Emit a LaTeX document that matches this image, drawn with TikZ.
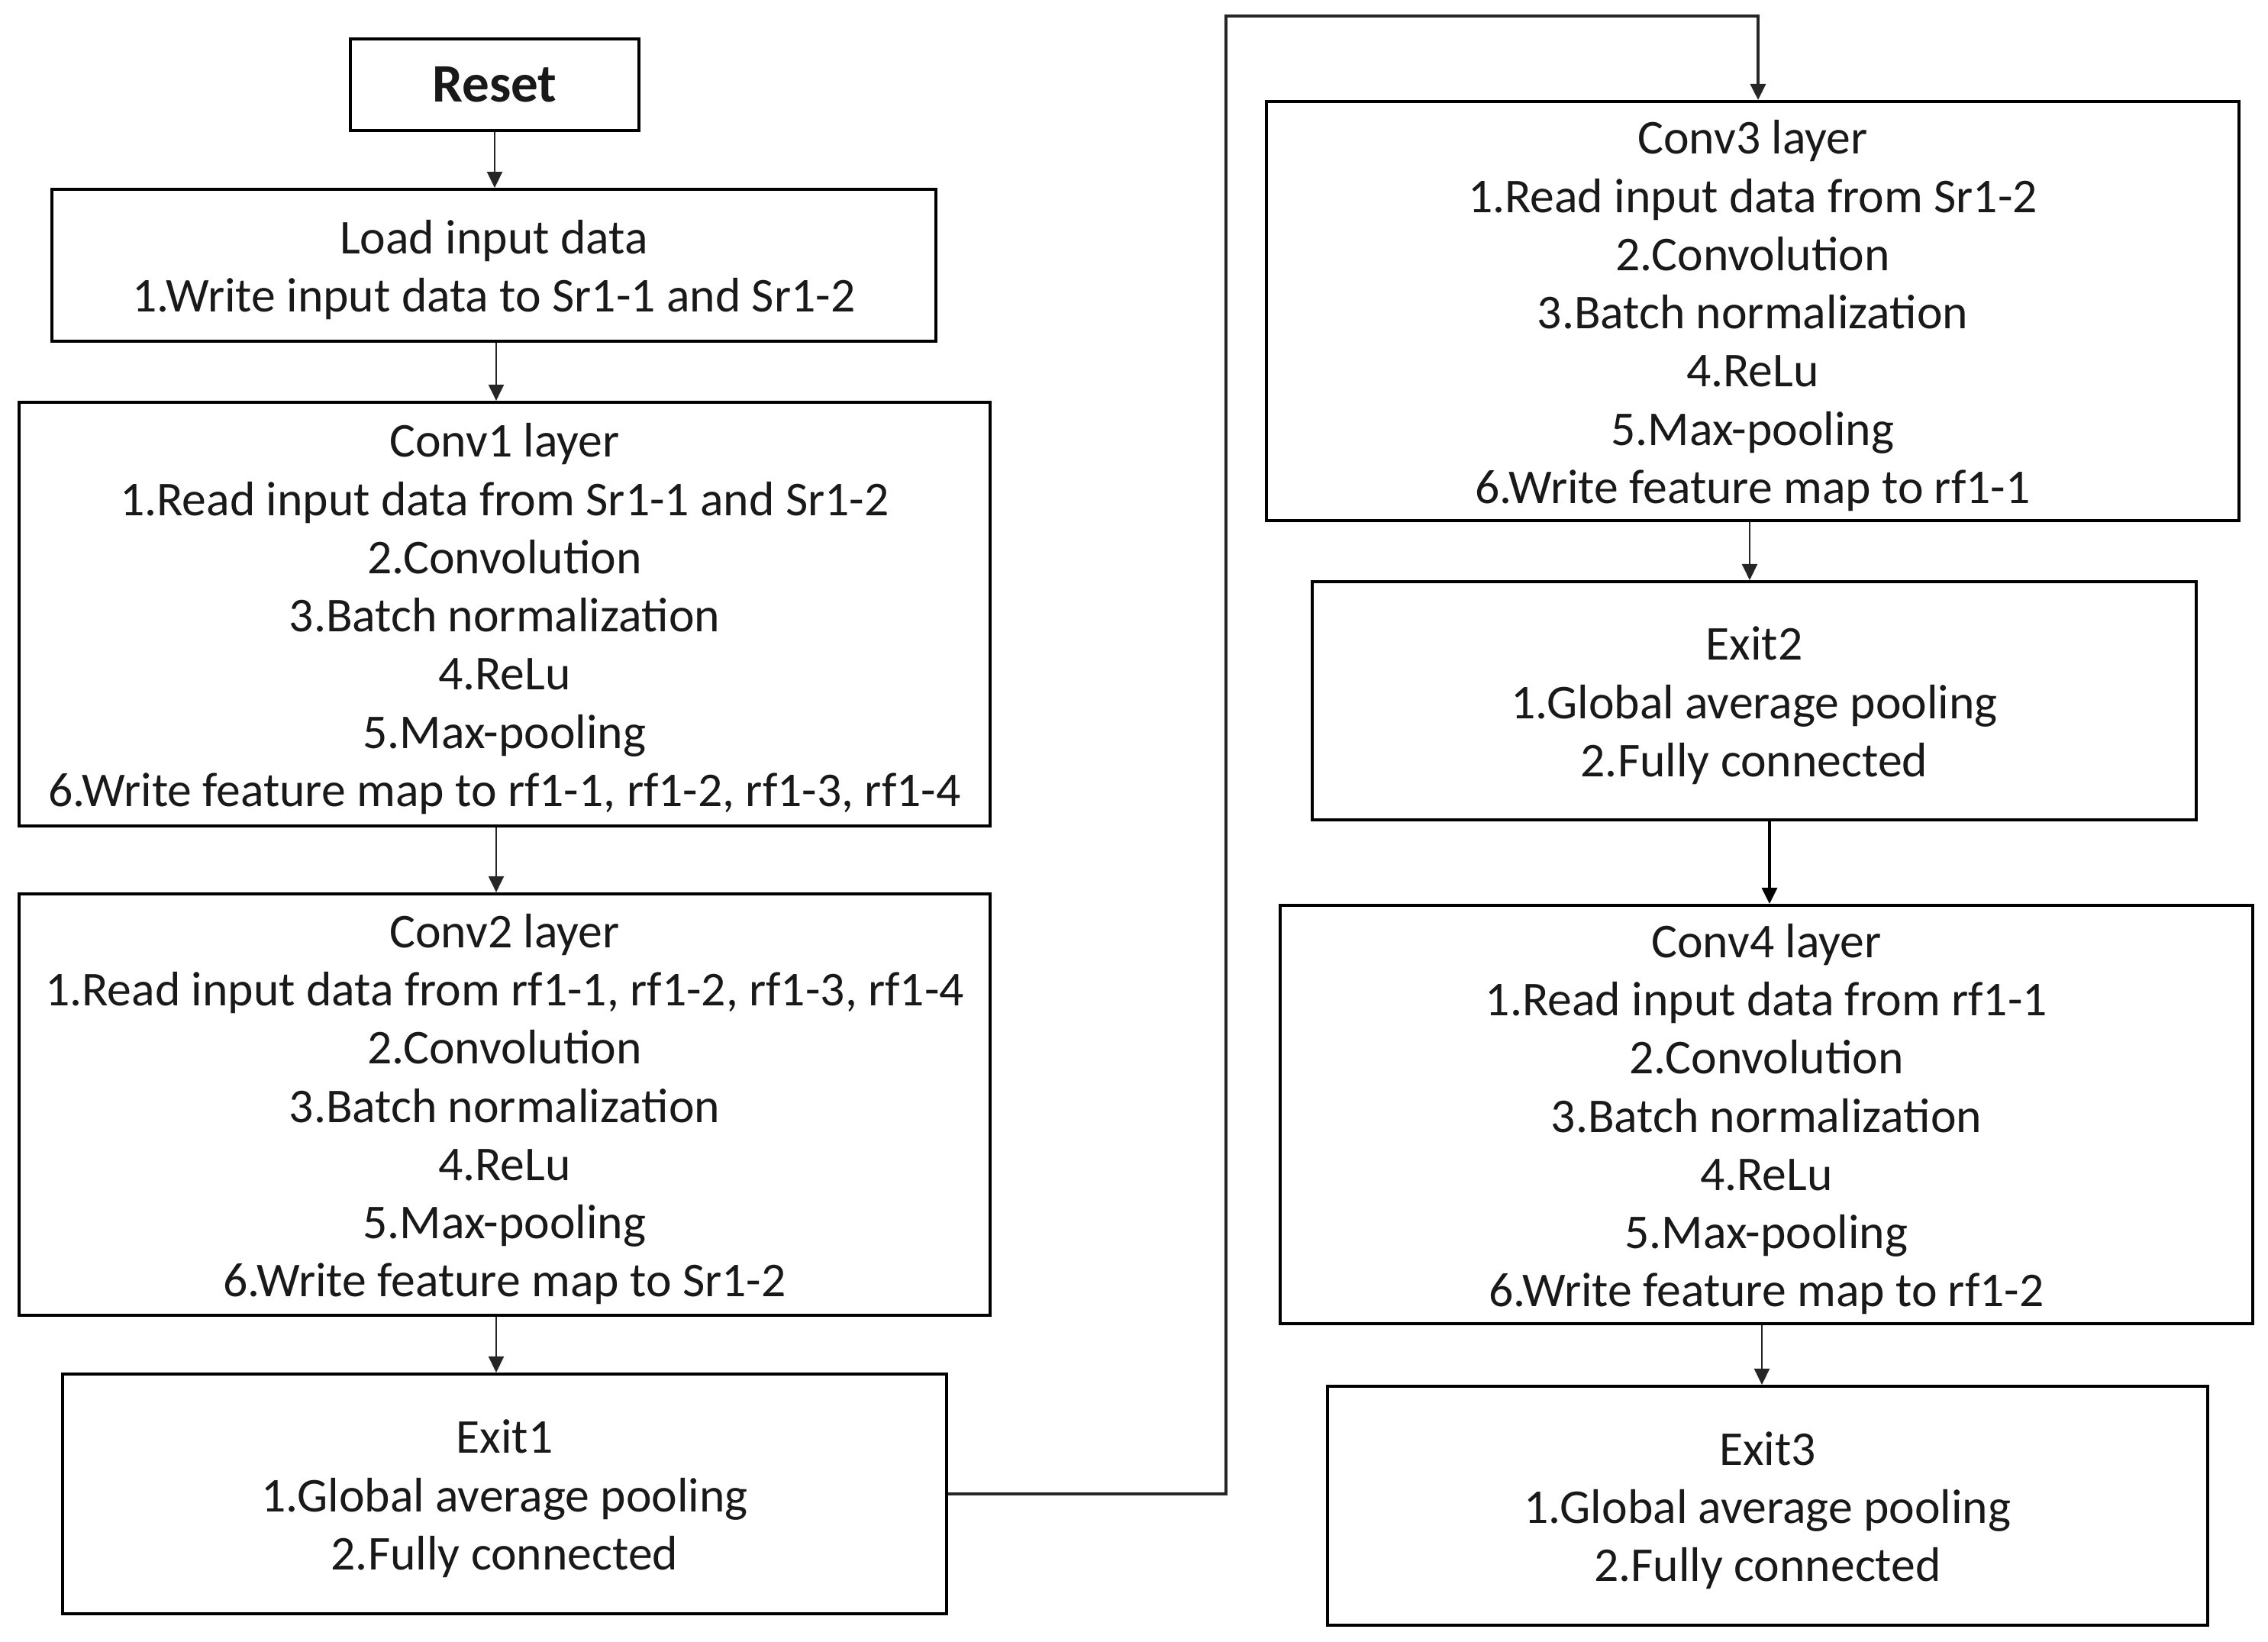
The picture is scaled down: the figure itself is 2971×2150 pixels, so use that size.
\documentclass[tikz,border=0pt]{standalone}
\usepackage{fontspec}
\setmainfont{Carlito}
\usetikzlibrary{arrows.meta}
\newcommand{\topstrut}{\rule{0pt}{16pt}}
\begin{document}
\begin{tikzpicture}[x=0.01cm,y=-0.01cm,
  stepbox/.style={draw=black, line width=1.1pt, inner sep=0pt, align=center,
    font=\fontsize{18.1}{21.68}\selectfont, text=black!90},
  arr/.style={draw=black!85, line width=0.6pt, -{Triangle[length=2.1mm,width=2mm]}},
  arrthick/.style={draw=black, line width=0.9pt, -{Triangle[length=2.1mm,width=2mm]}}]
\useasboundingbox[fill=white] (0,0) rectangle (2971,2150);

\node[stepbox, minimum width=3.78cm, minimum height=1.20cm, font=\fontsize{20.2}{24}\selectfont\bfseries] (reset) at (648,111) {Reset};
\node[stepbox, minimum width=11.58cm, minimum height=1.99cm] (load) at (647,347.5)
  {\topstrut Load input data\\1.Write input data to Sr1-1 and Sr1-2};
\node[stepbox, minimum width=12.72cm, minimum height=5.55cm] (conv1) at (661,804.5)
  {\topstrut Conv1 layer\\1.Read input data from Sr1-1 and Sr1-2\\2.Convolution\\3.Batch normalization\\4.ReLu\\5.Max-pooling\\6.Write feature map to rf1-1, rf1-2, rf1-3, rf1-4};
\node[stepbox, minimum width=12.72cm, minimum height=5.52cm] (conv2) at (661,1447)
  {\topstrut Conv2 layer\\1.Read input data from rf1-1, rf1-2, rf1-3, rf1-4\\2.Convolution\\3.Batch normalization\\4.ReLu\\5.Max-pooling\\6.Write feature map to Sr1-2};
\node[stepbox, minimum width=11.58cm, minimum height=3.14cm] (exit1) at (661,1957)
  {\topstrut Exit1\\1.Global average pooling\\2.Fully connected};
\node[stepbox, minimum width=12.74cm, minimum height=5.49cm] (conv3) at (2296,407.5)
  {\topstrut Conv3 layer\\1.Read input data from Sr1-2\\2.Convolution\\3.Batch normalization\\4.ReLu\\5.Max-pooling\\6.Write feature map to rf1-1};
\node[stepbox, minimum width=11.58cm, minimum height=3.12cm] (exit2) at (2298,918)
  {\topstrut Exit2\\1.Global average pooling\\2.Fully connected};
\node[stepbox, minimum width=12.74cm, minimum height=5.48cm] (conv4) at (2314,1460)
  {\topstrut Conv4 layer\\1.Read input data from rf1-1\\2.Convolution\\3.Batch normalization\\4.ReLu\\5.Max-pooling\\6.Write feature map to rf1-2};
\node[stepbox, minimum width=11.53cm, minimum height=3.13cm] (exit3) at (2315.5,1972.5)
  {\topstrut Exit3\\1.Global average pooling\\2.Fully connected};

\coordinate (lx) at (650,0);
\coordinate (rxa) at (2292,0);
\coordinate (rxb) at (2318,0);
\coordinate (rxc) at (2308,0);
\coordinate (rxt) at (2303,0);
\coordinate (corner) at (1606,21);

\draw[arr] (reset.south) -- (reset.south |- load.north);
\draw[arr] (lx |- load.south) -- (lx |- conv1.north);
\draw[arr] (lx |- conv1.south) -- (lx |- conv2.north);
\draw[arr] (lx |- conv2.south) -- (lx |- exit1.north);
\draw[arr] (rxa |- conv3.south) -- (rxa |- exit2.north);
\draw[arrthick] (rxb |- exit2.south) -- (rxb |- conv4.north);
\draw[arr] (rxc |- conv4.south) -- (rxc |- exit3.north);
\draw[arr, line width=0.9pt] (exit1.east) -| (corner) -| (rxt |- conv3.north);
\end{tikzpicture}
\end{document}
